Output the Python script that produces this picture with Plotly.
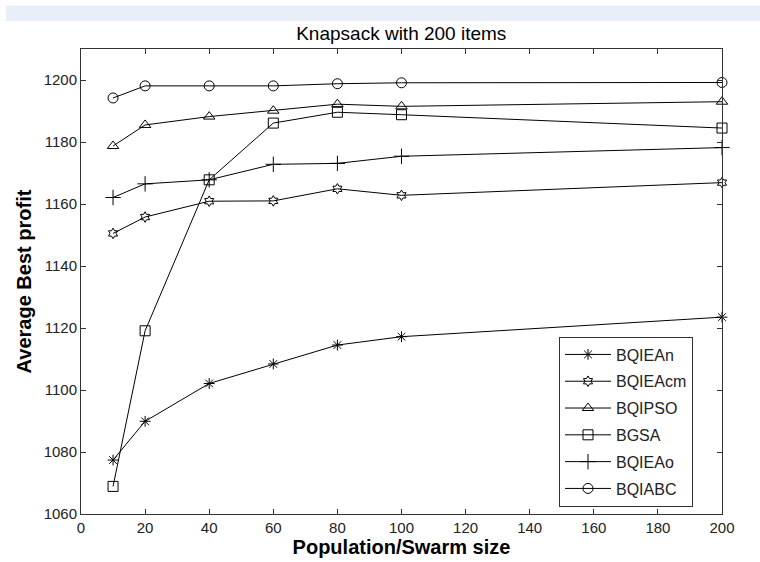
import plotly.graph_objects as go

# ---- data ----
pop_sizes = [10, 20, 40, 60, 80, 100, 200]
series_names = ["BQIEAn", "BQIEAcm", "BQIPSO", "BGSA", "BQIEAo", "BQIABC"]
bqieaN = [1077.4, 1089.9, 1102.1, 1108.4, 1114.5, 1117.2, 1123.5]
bqieaCM = [1150.5, 1155.8, 1160.9, 1161.0, 1164.9, 1162.8, 1166.9]
bqipso = [1178.7, 1185.5, 1188.2, 1190.1, 1192.2, 1191.5, 1193.0]
bgsa = [1068.9, 1119.1, 1167.8, 1186.1, 1189.6, 1188.8, 1184.5]
bqieaO = [1162.1, 1166.5, 1167.8, 1172.8, 1173.1, 1175.4, 1178.2]
bqiabc = [1194.2, 1198.1, 1198.1, 1198.1, 1198.8, 1199.1, 1199.2]
series_values = [bqieaN, bqieaCM, bqipso, bgsa, bqieaO, bqiabc]
x_ticks = [0, 20, 40, 60, 80, 100, 120, 140, 160, 180, 200]
y_ticks = [1060, 1080, 1100, 1120, 1140, 1160, 1180, 1200]

symbols = ["asterisk-open", "hexagram-open", "triangle-up-open", "square-open",
           "cross-thin-open", "circle-open"]
msizes = [9, 8, 10, 10, 11, 10]

FONT = "Liberation Sans, Arial, sans-serif"

fig = go.Figure()
for name, vals, sym, ms in zip(series_names, series_values, symbols, msizes):
    fig.add_trace(go.Scatter(
        x=pop_sizes, y=vals, name=name, mode="lines+markers",
        line=dict(color="black", width=1),
        marker=dict(symbol=sym, size=ms, color="black",
                    line=dict(color="black", width=1)),
        legendgroup=name, cliponaxis=False,
    ))

axis_common = dict(
    showline=True, linecolor="#333333", linewidth=1, mirror="allticks",
    ticks="inside", ticklen=5, tickcolor="#333333", showgrid=False,
    zeroline=False, tickfont=dict(family=FONT, size=15, color="#222222"),
)

fig.update_layout(
    width=760, height=562,
    margin=dict(l=81, r=38, t=49, b=44),
    paper_bgcolor="white", plot_bgcolor="white",
    title=dict(text="Knapsack with 200 items", x=0.528, xanchor="center",
               y=1 - 33 / 562, yanchor="middle", yref="container",
               font=dict(family=FONT, size=19, color="black")),
    xaxis=dict(range=[0, 200], tickvals=x_ticks,
               title=dict(text="<b>Population/Swarm size</b>", standoff=0,
                          font=dict(family=FONT, size=20, color="black")),
               **axis_common),
    yaxis=dict(range=[1060, 1210], tickvals=y_ticks,
               title=dict(text="<b>Average Best profit</b>", standoff=6,
                          font=dict(family=FONT, size=20, color="black")),
               **axis_common),
    showlegend=True,
    legend=dict(x=(559 - 81) / 641, y=(518 - 339) / 469, xanchor="left",
                yanchor="top", bgcolor="white", bordercolor="#333333",
                borderwidth=1, tracegroupgap=3, itemwidth=46,
                font=dict(family=FONT, size=16, color="#222222")),
    shapes=[dict(type="rect", xref="paper", yref="paper",
                 x0=(6 - 81) / 641, x1=(760 - 81) / 641,
                 y0=(518 - 5) / 469, y1=(518 - 21) / 469,
                 fillcolor="#e9eff9", line=dict(width=0), layer="below")],
)

fig.write_html("out.html", config={"displayModeBar": False},
               post_script="document.body.style.margin='0px';")
